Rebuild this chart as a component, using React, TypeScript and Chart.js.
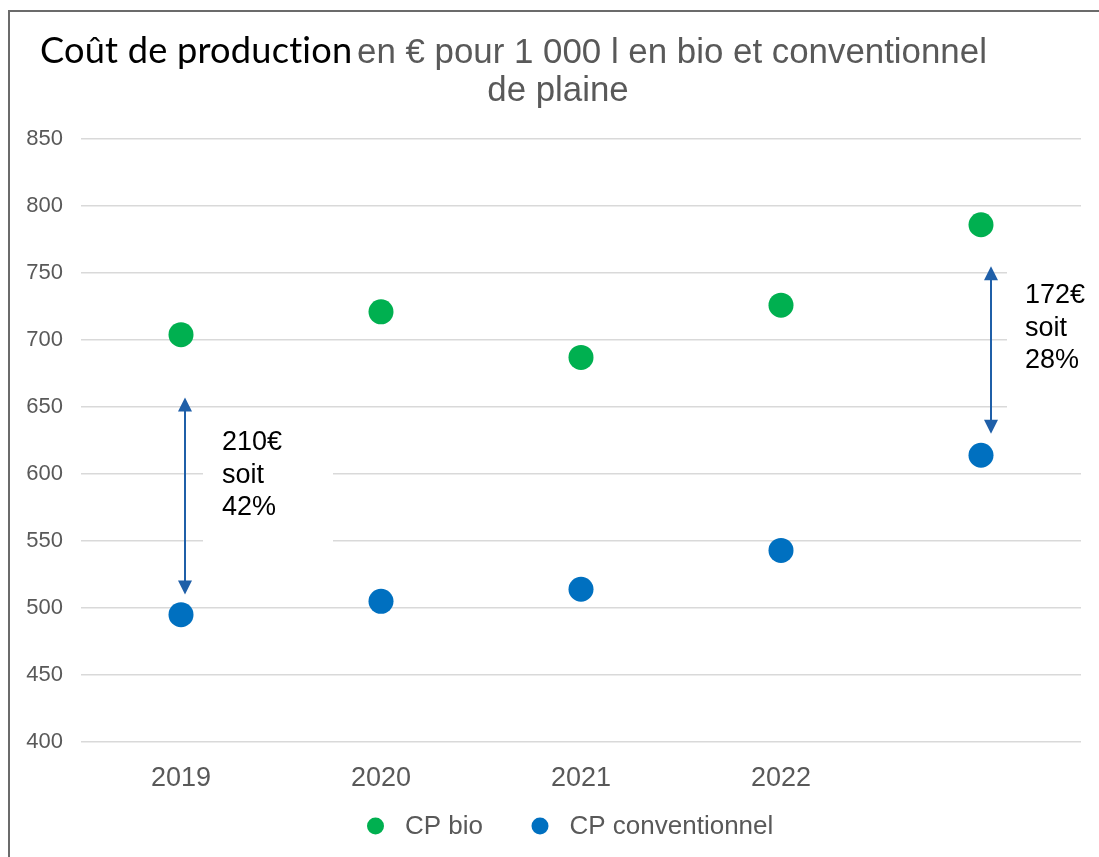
import React, { useEffect, useRef } from "react";
import { Chart, registerables } from "chart.js";

Chart.register(...registerables);

// ---- data ----
const categories = ["2019", "2020", "2021", "2022", ""];
const cpBio = [704, 721, 687, 726, 786];
const cpConventionnel = [495, 505, 514, 543, 614];
const seriesLabels = ["CP bio", "CP conventionnel"];
const seriesColors = ["#00B050", "#0070C0"];
const yMin = 400;
const yMax = 850;
const yStep = 50;

const titleMain = "Coût de production";
const titleLine1 = "en € pour 1 000 l en bio et conventionnel";
const titleLine2 = "de plaine";

// gap arrows (category index, top value, bottom value, text)
const arrowCategory = [0, 4];
const arrowTop = [657, 755];
const arrowBottom = [510, 630];
const arrowTexts = [
  ["210€", "soit", "42%"],
  ["172€", "soit", "28%"],
];

const GRAY = "#595959";
const FONT = "'Liberation Sans', Arial, sans-serif";

function fitSize(ctx: CanvasRenderingContext2D, text: string, family: string, target: number) {
  ctx.font = `40px ${family}`;
  const w = ctx.measureText(text).width;
  return (40 * target) / w;
}

const decorPlugin = {
  id: "decor",
  afterDraw(chart: any) {
    const ctx: CanvasRenderingContext2D = chart.ctx;
    const xs = chart.scales.x;
    const ys = chart.scales.y;
    ctx.save();

    // frame
    ctx.strokeStyle = "#6b6b6b";
    ctx.lineWidth = 2;
    ctx.beginPath();
    ctx.moveTo(9, chart.height);
    ctx.lineTo(9, 11);
    ctx.lineTo(chart.width, 11);
    ctx.stroke();

    // titles
    ctx.textBaseline = "alphabetic";
    ctx.textAlign = "left";
    (ctx as any).letterSpacing = "0.2px";
    const blackFamily = "Lato, 'Open Sans', sans-serif";
    const blackSize = fitSize(ctx, titleMain, blackFamily, 312);
    ctx.font = `${blackSize}px ${blackFamily}`;
    ctx.fillStyle = "#000";
    ctx.fillText(titleMain, 40, 63);
    (ctx as any).letterSpacing = "0px";

    const graySize = fitSize(ctx, titleLine1, FONT, 630);
    ctx.font = `${graySize}px ${FONT}`;
    ctx.fillStyle = GRAY;
    ctx.fillText(titleLine1, 357, 63);
    ctx.textAlign = "center";
    ctx.fillText(titleLine2, 558, 101);

    // arrows + annotation boxes
    const boxes = [
      { x: 203, y: 415, w: 130, h: 155 },
      { x: 1007, y: 232, w: 92, h: 205 },
    ];
    const dxs = [4, 10];
    const textX = [222, 1025];
    arrowCategory.forEach((ci, k) => {
      const b = boxes[k];
      ctx.fillStyle = "#fff";
      ctx.fillRect(b.x, b.y, b.w, b.h);

      const x = xs.getPixelForValue(ci) + dxs[k];
      const yT = ys.getPixelForValue(arrowTop[k]);
      const yB = ys.getPixelForValue(arrowBottom[k]);
      const head = 14;
      const hw = 7;
      ctx.strokeStyle = "#1F5FA8";
      ctx.fillStyle = "#1F5FA8";
      ctx.lineWidth = 2;
      ctx.beginPath();
      ctx.moveTo(x, yT + head - 1);
      ctx.lineTo(x, yB - head + 1);
      ctx.stroke();
      ctx.beginPath();
      ctx.moveTo(x, yT);
      ctx.lineTo(x - hw, yT + head);
      ctx.lineTo(x + hw, yT + head);
      ctx.closePath();
      ctx.fill();
      ctx.beginPath();
      ctx.moveTo(x, yB);
      ctx.lineTo(x - hw, yB - head);
      ctx.lineTo(x + hw, yB - head);
      ctx.closePath();
      ctx.fill();

      ctx.fillStyle = "#000";
      ctx.font = `27px ${FONT}`;
      ctx.textAlign = "left";
      ctx.textBaseline = "alphabetic";
      const base = k === 0 ? 450 : 303;
      arrowTexts[k].forEach((t, i) => ctx.fillText(t, textX[k], base + i * 32.5));
    });

    // legend
    const legendX = [375.5, 540];
    const legendY = 826;
    ctx.textAlign = "left";
    ctx.textBaseline = "middle";
    ctx.font = `26px ${FONT}`;
    chart.data.datasets.forEach((ds: any, i: number) => {
      ctx.fillStyle = ds.backgroundColor;
      ctx.beginPath();
      ctx.arc(legendX[i], legendY, 8.5, 0, Math.PI * 2);
      ctx.fill();
      ctx.fillStyle = GRAY;
      ctx.fillText(ds.label, legendX[i] + 29.5, legendY + 1);
    });

    ctx.restore();
  },
};

export default function App() {
  const ref = useRef<HTMLCanvasElement | null>(null);

  useEffect(() => {
    if (!ref.current) return;
    const chart = new Chart(ref.current, {
      type: "line",
      data: {
        labels: categories,
        datasets: [
          {
            label: seriesLabels[0],
            data: cpBio,
            backgroundColor: seriesColors[0],
            borderColor: seriesColors[0],
            showLine: false,
            pointRadius: 12.5,
            pointHoverRadius: 12.5,
            pointBorderWidth: 0,
          },
          {
            label: seriesLabels[1],
            data: cpConventionnel,
            backgroundColor: seriesColors[1],
            borderColor: seriesColors[1],
            showLine: false,
            pointRadius: 12.5,
            pointHoverRadius: 12.5,
            pointBorderWidth: 0,
          },
        ],
      },
      options: {
        responsive: false,
        animation: false,
        layout: { padding: { top: 139, right: 18, bottom: 55, left: 0 } },
        plugins: {
          legend: { display: false },
          title: { display: false },
          tooltip: { enabled: false },
        },
        scales: {
          x: {
            type: "category",
            offset: true,
            grid: { display: false, drawTicks: false },
            border: { display: false },
            ticks: { color: GRAY, font: { family: FONT, size: 27 }, padding: 20 },
            afterFit: (s: any) => {
              s.height = 60;
            },
          },
          y: {
            min: yMin,
            max: yMax,
            grid: { color: "#d9d9d9", lineWidth: 1.5, drawTicks: false },
            border: { display: false },
            ticks: { stepSize: yStep, color: GRAY, font: { family: FONT, size: 22 }, padding: 18 },
            afterFit: (s: any) => {
              s.width = 81;
            },
          },
        },
      },
      plugins: [decorPlugin],
    });
    return () => chart.destroy();
  }, []);

  return (
    <div style={{ position: "absolute", left: 0, top: 0, width: 1099, height: 857 }}>
      <canvas ref={ref} width={1099} height={857} />
    </div>
  );
}
